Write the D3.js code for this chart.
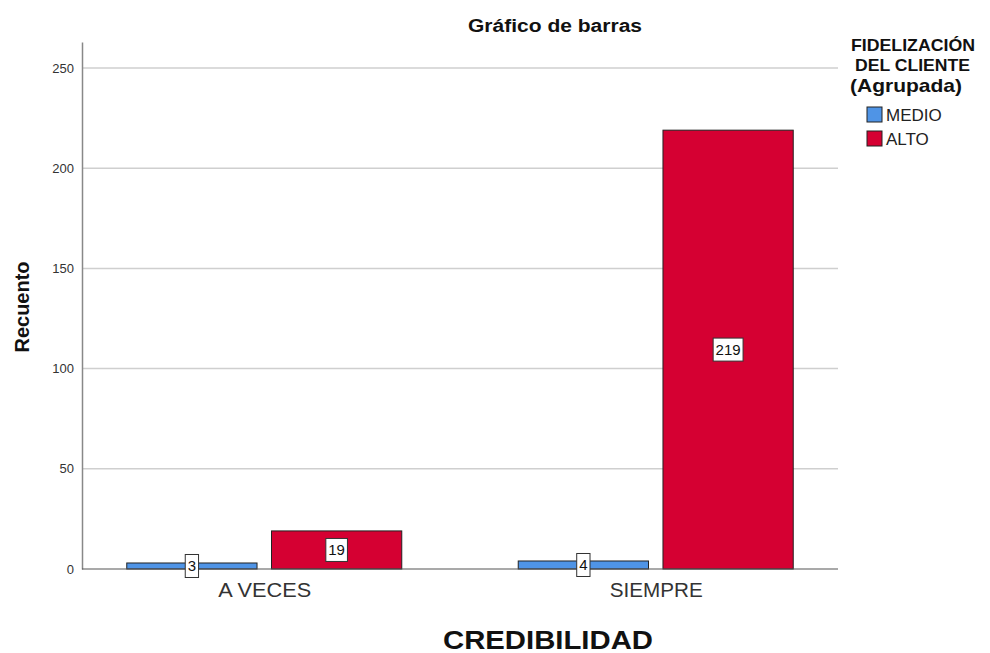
<!DOCTYPE html>
<html><head><meta charset="utf-8">
<script src="https://cdn.jsdelivr.net/npm/d3@7"></script>
<style>body{margin:0;background:#fff}svg{display:block}</style>
</head><body>
<svg id="c" width="990" height="653"></svg>
<script>
const categories = ["A VECES", "SIEMPRE"];
const seriesNames = ["MEDIO", "ALTO"];
const medio = [3, 4];
const alto = [19, 219];
const yTicks = [0, 50, 100, 150, 200, 250];
const colors = ["#4f94e6", "#d50032"];

(function () {
const data = categories.map((c, i) => ({cat: c, vals: [medio[i], alto[i]]}));
const svg = d3.select("#c");
const font = "'Liberation Sans', Arial, sans-serif";
const pLeft = 82, pRight = 838, pTop = 42, pBottom = 569;

const y = d3.scaleLinear().domain([0, 263]).range([pBottom, pTop]);
const x0 = d3.scalePoint().domain(categories).range([pLeft, pRight]).padding(0.4656);
const x1 = d3.scaleBand().domain(seriesNames).range([-137.5, 137.5]).paddingInner(0.1);
const color = d3.scaleOrdinal().domain(seriesNames).range(colors);

// gridlines
svg.append("g").selectAll("line").data(yTicks.filter(d => d > 0)).join("line")
  .attr("x1", pLeft).attr("x2", pRight).attr("y1", d => y(d)).attr("y2", d => y(d))
  .attr("stroke", "#cfcfcf").attr("stroke-width", 1.5);

// y axis
const ya = svg.append("g").attr("transform", `translate(${pLeft},0)`)
  .call(d3.axisLeft(y).tickValues(yTicks).tickSize(0).tickPadding(8));
ya.select(".domain").attr("stroke", "#888").attr("stroke-width", 1.5);
ya.selectAll("text").attr("font-family", font).attr("font-size", 13).attr("fill", "#333");

// bars
const g = svg.append("g");
data.forEach(d => {
  seriesNames.forEach((s, j) => {
    const v = d.vals[j];
    const bx = x0(d.cat) + x1(s);
    g.append("rect").attr("x", bx).attr("y", y(v)).attr("width", x1.bandwidth())
      .attr("height", y(0) - y(v)).attr("fill", color(s)).attr("stroke", "#222").attr("stroke-width", 1);
  });
});

// x axis baseline
const xa = svg.append("g").attr("transform", `translate(0,${pBottom})`)
  .call(d3.axisBottom(x0).tickSize(0).tickPadding(14));
xa.select(".domain").attr("d", `M${pLeft},0H${pRight}`).attr("stroke", "#555").attr("stroke-width", 1.2);
xa.selectAll("text").attr("font-family", font).attr("font-size", 20).attr("fill", "#333")
  .attr("textLength", 93).attr("lengthAdjust", "spacingAndGlyphs");

// value labels
data.forEach(d => {
  seriesNames.forEach((s, j) => {
    const v = d.vals[j];
    const cx = x0(d.cat) + x1(s) + x1.bandwidth() / 2;
    const cy = (y(v) + y(0)) / 2;
    const txt = String(v);
    const w = 8.3 * txt.length + 5;
    const h = 23;
    const lg = svg.append("g");
    lg.append("rect").attr("x", cx - w / 2).attr("y", cy - h / 2).attr("width", w).attr("height", h)
      .attr("fill", "#fff").attr("stroke", "#333").attr("stroke-width", 1);
    lg.append("text").attr("x", cx).attr("y", cy + 5.5).attr("text-anchor", "middle")
      .attr("font-family", font).attr("font-size", 15).attr("fill", "#111").text(txt);
  });
});

// title
svg.append("text").attr("x", 555).attr("y", 32).attr("text-anchor", "middle")
  .attr("font-family", font).attr("font-size", 18).attr("font-weight", "bold").attr("fill", "#111")
  .attr("textLength", 174).attr("lengthAdjust", "spacingAndGlyphs")
  .text("Gráfico de barras");

// y label
svg.append("text").attr("transform", "translate(29,307) rotate(-90)").attr("text-anchor", "middle")
  .attr("font-family", font).attr("font-size", 20).attr("font-weight", "bold").attr("fill", "#111")
  .text("Recuento");

// x label
svg.append("text").attr("x", 548).attr("y", 649).attr("text-anchor", "middle")
  .attr("font-family", font).attr("font-size", 25).attr("font-weight", "bold").attr("fill", "#111")
  .attr("textLength", 210).attr("lengthAdjust", "spacingAndGlyphs")
  .text("CREDIBILIDAD");

// legend
const legTitle = ["FIDELIZACIÓN", "DEL CLIENTE", "(Agrupada)"];
const legX = [851, 855, 850], legW = [124, 115, 112], legFs = [17, 17, 19], legY = [51, 71, 92];
svg.append("g").selectAll("text").data(legTitle).join("text")
  .attr("x", (d, i) => legX[i]).attr("y", (d, i) => legY[i])
  .attr("font-family", font).attr("font-size", (d, i) => legFs[i]).attr("font-weight", "bold").attr("fill", "#111")
  .attr("textLength", (d, i) => legW[i]).attr("lengthAdjust", "spacingAndGlyphs")
  .text(d => d);
const leg = svg.append("g").selectAll("g").data(seriesNames).join("g")
  .attr("transform", (d, i) => `translate(867,${107 + i * 24})`);
leg.append("rect").attr("width", 15).attr("height", 15).attr("fill", d => color(d))
  .attr("stroke", "#222").attr("stroke-width", 1);
leg.append("text").attr("x", 19).attr("y", 14).attr("font-family", font).attr("font-size", 17)
  .attr("fill", "#222").text(d => d);
})();
</script>
</body></html>
